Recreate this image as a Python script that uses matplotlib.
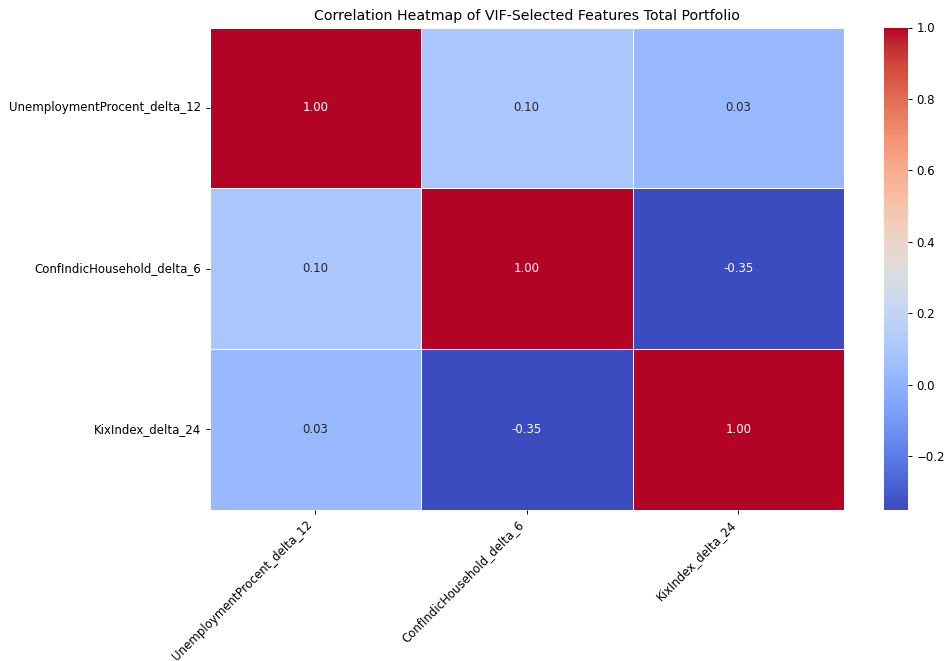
import matplotlib
matplotlib.use("Agg")
import matplotlib.pyplot as plt
import numpy as np
import pandas as pd
import seaborn as sns

features = ["UnemploymentProcent_delta_12", "ConfIndicHousehold_delta_6", "KixIndex_delta_24"]
row_unemployment = [1.00, 0.10, 0.03]
row_confidence = [0.10, 1.00, -0.35]
row_kix = [0.03, -0.35, 1.00]

corr = pd.DataFrame([row_unemployment, row_confidence, row_kix], index=features, columns=features)

W, H = 946, 661
DPI = 85
fig = plt.figure(figsize=(W / DPI, H / DPI), dpi=DPI)
ax = fig.add_axes([209.5 / W, 1 - 509.5 / H, (844 - 209.5) / W, (509.5 - 27.5) / H])
cax = fig.add_axes([884 / W, 1 - 509.5 / H, (908 - 884) / W, (509.5 - 27.5) / H])

sns.heatmap(corr, annot=True, fmt=".2f", cmap="coolwarm", linewidths=0.5,
            linecolor="white", ax=ax, cbar_ax=cax)
ax.set_title("Correlation Heatmap of VIF-Selected Features Total Portfolio")
plt.setp(ax.get_xticklabels(), rotation=45, ha="right")
plt.setp(ax.get_yticklabels(), rotation=0)

fig.savefig("out.png", dpi=DPI)
